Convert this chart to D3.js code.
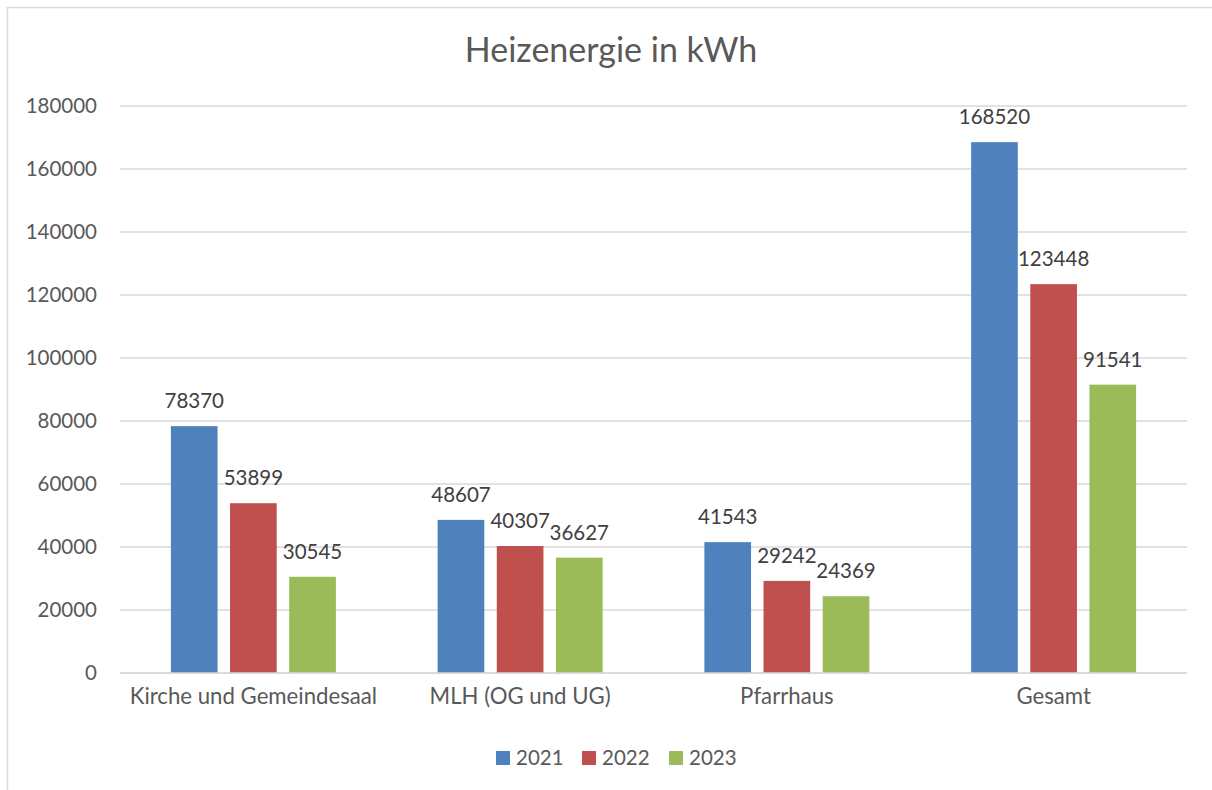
<!DOCTYPE html>
<html>
<head>
<meta charset="utf-8">
<script src="https://cdn.jsdelivr.net/npm/d3@7"></script>
<style>
  body { margin: 0; background: #fff; }
  text { font-family: Lato, "Open Sans", sans-serif; }
</style>
</head>
<body>
<div id="chart"></div>
<script>
// Data
var categories = ["Kirche und Gemeindesaal", "MLH (OG und UG)", "Pfarrhaus", "Gesamt"];
var years = ["2021", "2022", "2023"];
var values2021 = [78370, 48607, 41543, 168520];
var values2022 = [53899, 40307, 29242, 123448];
var values2023 = [30545, 36627, 24369, 91541];
var yTicks = [0, 20000, 40000, 60000, 80000, 100000, 120000, 140000, 160000, 180000];
var colors = ["#4F81BD", "#C0504D", "#9BBB59"];

var series = [values2021, values2022, values2023];
var rows = categories.map(function(c, i) {
  return { cat: c, vals: years.map(function(y, j) { return { year: y, v: series[j][i], j: j }; }) };
});

var W = 1212, H = 790;
var plot = { left: 120, right: 1187, top: 106, bottom: 673 };

var svg = d3.select("#chart").append("svg")
  .attr("width", W).attr("height", H);

// chart frame (only left and top edges visible)
svg.append("line").attr("x1", 7.5).attr("x2", 7.5).attr("y1", 7).attr("y2", H)
  .style("stroke", "#D9D9D9").style("stroke-width", 1.5);
svg.append("line").attr("x1", 7).attr("x2", W).attr("y1", 7.5).attr("y2", 7.5)
  .style("stroke", "#D9D9D9").style("stroke-width", 1.5);

// title
svg.append("text")
  .attr("x", 611).attr("y", 62)
  .attr("text-anchor", "middle")
  .style("font-size", "34px")
  .style("fill", "#595959")
  .text("Heizenergie in kWh");

var yScale = d3.scaleLinear().domain([0, 180000]).range([plot.bottom, plot.top]);

var x0 = d3.scaleBand().domain(categories).range([plot.left, plot.right]).padding(0);
var groupW = 165;
var x1 = d3.scaleBand().domain(years).range([0, groupW]).paddingInner(0.211);

// gridlines
svg.append("g").selectAll("line").data(yTicks).enter().append("line")
  .attr("x1", plot.left).attr("x2", plot.right)
  .attr("y1", function(d) { return yScale(d); })
  .attr("y2", function(d) { return yScale(d); })
  .style("stroke", "#D9D9D9").style("stroke-width", 1.5);

// y axis labels
var yAxis = d3.axisLeft(yScale).tickValues(yTicks).tickSize(0).tickPadding(23)
  .tickFormat(function(d) { return d; });
var yg = svg.append("g").attr("transform", "translate(" + plot.left + ",0)").call(yAxis);
yg.select(".domain").remove();
yg.selectAll("text").style("font-size", "20.5px").style("fill", "#595959")
  .style("font-family", "Lato, 'Open Sans', sans-serif");

// bars
var groups = svg.append("g").selectAll("g").data(rows).enter().append("g")
  .attr("transform", function(d) {
    return "translate(" + (x0(d.cat) + (x0.bandwidth() - groupW) / 2) + ",0)";
  });

groups.selectAll("rect").data(function(d) { return d.vals; }).enter().append("rect")
  .attr("x", function(d) { return x1(d.year); })
  .attr("width", x1.bandwidth())
  .attr("y", function(d) { return yScale(d.v); })
  .attr("height", function(d) { return yScale(0) - yScale(d.v); })
  .style("fill", function(d) { return colors[d.j]; });

// data labels
groups.selectAll("text").data(function(d) { return d.vals; }).enter().append("text")
  .attr("x", function(d) { return x1(d.year) + x1.bandwidth() / 2; })
  .attr("y", function(d) { return yScale(d.v) - 18; })
  .attr("text-anchor", "middle")
  .style("font-size", "20.5px")
  .style("fill", "#404040")
  .text(function(d) { return d.v; });

// baseline
svg.append("line").attr("x1", plot.left).attr("x2", plot.right)
  .attr("y1", yScale(0)).attr("y2", yScale(0))
  .style("stroke", "#D9D9D9").style("stroke-width", 1.5);

// category labels
var xAxis = d3.axisBottom(x0).tickSize(0).tickPadding(15);
var xg = svg.append("g").attr("transform", "translate(0," + plot.bottom + ")").call(xAxis);
xg.select(".domain").remove();
xg.selectAll("text").style("font-size", "22.2px").style("fill", "#595959")
  .style("font-family", "Lato, 'Open Sans', sans-serif");

// legend
var legendX = [496, 582, 669];
var legend = svg.append("g").selectAll("g").data(years).enter().append("g")
  .attr("transform", function(d, i) { return "translate(" + legendX[i] + ",751)"; });
legend.append("rect").attr("width", 14).attr("height", 14)
  .style("fill", function(d, i) { return colors[i]; });
legend.append("text").attr("x", 20).attr("y", 14)
  .style("font-size", "20.5px").style("fill", "#595959")
  .text(function(d) { return d; });
</script>
</body>
</html>
